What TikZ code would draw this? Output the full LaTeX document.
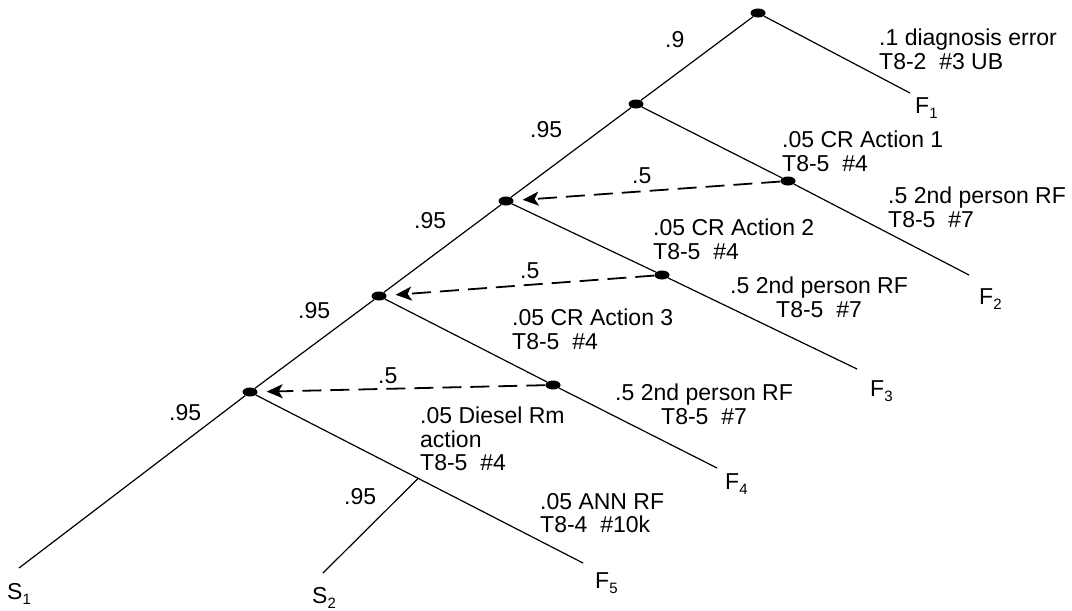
\documentclass[tikz,border=0pt]{standalone}
\usepackage{fontspec}
\setmainfont{Liberation Sans}
\usetikzlibrary{shapes.geometric,arrows.meta,calc}
\newcommand\subs[1]{\raisebox{-5.5pt}{\fontsize{15}{15}\selectfont #1}}
\begin{document}
\begin{tikzpicture}[x=1pt,y=-1pt,
  dot/.style={ellipse,fill=black,minimum width=15pt,minimum height=9pt,inner sep=0pt},
  br/.style={line width=1.2pt},
  rec/.style={line width=1.8pt,dash pattern=on 19pt off 9pt,-{Stealth[length=16pt,width=14pt,inset=4pt]},shorten >=9pt},
  lbl/.style={font=\fontsize{23}{23.5}\selectfont,inner sep=0pt,anchor=north west,align=left},
  clbl/.style={lbl,align=center}]
\useasboundingbox (0,0) rectangle (1072,611);
% event nodes
\node[dot] (n0) at (758,13) {};
\node[dot] (n1) at (636,104) {};
\node[dot] (n2) at (506,201) {};
\node[dot] (n3) at (379,296) {};
\node[dot] (n4) at (250,392) {};
\node[dot] (m1) at (788,181) {};
\node[dot] (m2) at (662,275) {};
\node[dot] (m3) at (553,385) {};
% end points
\coordinate (f1) at (910,93);
\coordinate (f2) at (969,275);
\coordinate (f3) at (857,369);
\coordinate (f4) at (717,468);
\coordinate (f5) at (583,563);
\coordinate (s1) at (19,568);
\coordinate (s2) at (323,573);
\coordinate (j) at ($(n4)!0.505!(f5)$);
% branches
\draw[br] (n0) -- (n1) -- (n2) -- (n3) -- (n4) -- (s1);
\draw[br] (n0) -- (f1);
\draw[br] (n1) -- (m1) -- (f2);
\draw[br] (n2) -- (m2) -- (f3);
\draw[br] (n3) -- (m3) -- (f4);
\draw[br] (n4) -- (f5);
\draw[br] (j) -- (s2);
% recovery arrows
\draw[rec] (m1) -- (n2);
\draw[rec] (m2) -- (n3);
\draw[rec] (m3) -- (n4);
% labels
\node[lbl] (p9) at (665,31) {.9};
\node[lbl] (p95a) at (530,121) {.95};
\node[lbl] (p95b) at (414,212) {.95};
\node[lbl] (p95c) at (298,302) {.95};
\node[lbl] (p95d) at (169,404) {.95};
\node[lbl] (p95e) at (344,488) {.95};
\node[lbl] (h1) at (632,167) {.5};
\node[lbl] (h2) at (520,262) {.5};
\node[lbl] (h3) at (378,367) {.5};
\node[lbl] (diag) at (879,29) {.1 diagnosis error\\T8-2\ \ \#3 UB};
\node[lbl] (cr1) at (782,131) {.05 CR Action 1\\T8-5\ \ \#4};
\node[lbl] (cr2) at (653,219) {.05 CR Action 2\\T8-5\ \ \#4};
\node[lbl] (cr3) at (512,309) {.05 CR Action 3\\T8-5\ \ \#4};
\node[lbl] (dsl) at (420,407) {.05 Diesel Rm\\action\\T8-5\ \ \#4};
\node[lbl] (ann) at (540,493) {.05 ANN RF\\T8-4\ \ \#10k};
\node[lbl] (rf1) at (888,187) {.5 2nd person RF\\T8-5\ \ \#7};
\node[clbl] (rf2) at (730,277) {.5 2nd person RF\\T8-5\ \ \#7};
\node[clbl] (rf3) at (615,384) {.5 2nd person RF\\T8-5\ \ \#7};
\node[lbl] (lf1) at (915,97) {F\subs{1}};
\node[lbl] (lf2) at (979,288) {F\subs{2}};
\node[lbl] (lf3) at (870,380) {F\subs{3}};
\node[lbl] (lf4) at (725,473) {F\subs{4}};
\node[lbl] (lf5) at (595,572) {F\subs{5}};
\node[lbl] (ls1) at (7,583) {S\subs{1}};
\node[lbl] (ls2) at (312,587) {S\subs{2}};
\end{tikzpicture}
\end{document}
